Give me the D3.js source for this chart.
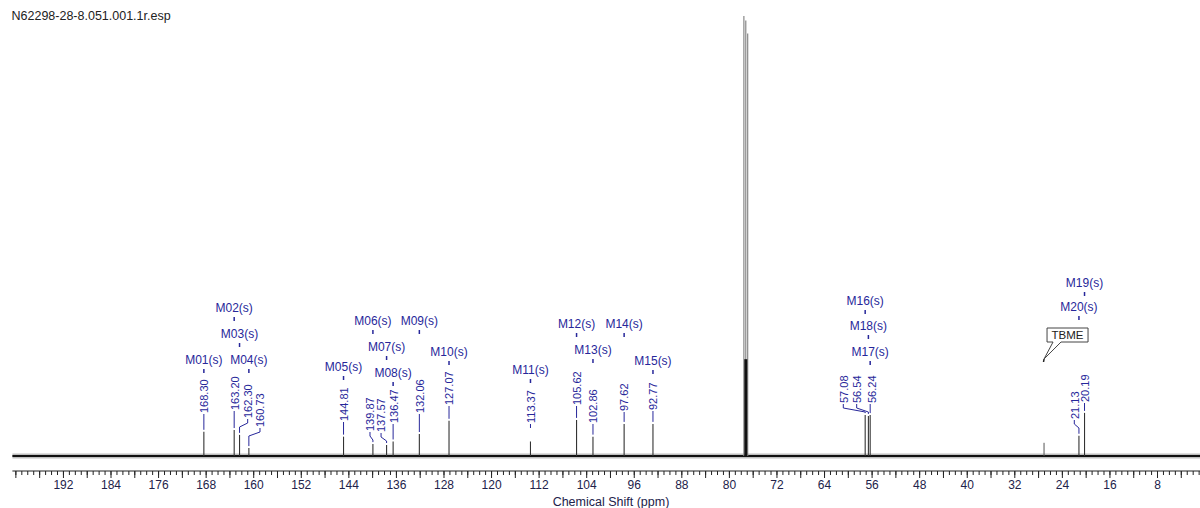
<!DOCTYPE html>
<html><head><meta charset="utf-8">
<script src="https://cdn.jsdelivr.net/npm/d3@7"></script>
<style>
html,body{margin:0;padding:0;background:#fff;}
svg{display:block;font-family:"Liberation Sans",Arial,sans-serif;}
</style></head>
<body>
<svg id="chart" width="1200" height="508"></svg>
<script>
// ---------- data ----------
const title = "N62298-28-8.051.001.1r.esp";
const axisTitle = "Chemical Shift (ppm)";
const peakPpm = [168.30,163.20,162.30,160.73,144.81,139.87,137.57,136.47,132.06,127.07,113.37,105.62,102.86,97.62,92.77,57.08,56.54,56.24,21.13,20.19];
const peakIntensity = [5.5,5.9,4.8,1.8,4.4,2.7,2.5,3.3,5.0,8.0,3.3,8.2,4.4,7.3,7.3,9.3,9.1,9.3,4.6,9.8];
const multipletNames = ["M01(s)","M02(s)","M03(s)","M04(s)","M05(s)","M06(s)","M07(s)","M08(s)","M09(s)","M10(s)","M11(s)","M12(s)","M13(s)","M14(s)","M15(s)","M16(s)","M18(s)","M17(s)","M20(s)","M19(s)"];
const solventPpm = [77.48,77.16,76.84];
const solventIntensity = [100,99,96];
const impurityPpm = [27.0];
const impurityIntensity = [3.0];
const impurityNames = ["TBME"];
const majorTicks = d3.range(4, 201, 4);
const minorTicks = d3.range(1, 201, 1);
const labelledTicks = d3.range(8, 193, 8);

// ---------- layout (label placement, not data) ----------
const labelLayout = [
  {textPpm:168.30,textBottom:413,mY:360},
  {textPpm:163.20,textBottom:410,mY:308},
  {textPpm:160.93,textBottom:418,mY:334},
  {textPpm:158.86,textBottom:427,mY:360},
  {textPpm:144.81,textBottom:421,mY:367},
  {textPpm:140.36,textBottom:431,mY:321},
  {textPpm:138.50,textBottom:432,mY:347},
  {textPpm:136.44,textBottom:423,mY:373},
  {textPpm:132.06,textBottom:413,mY:321},
  {textPpm:127.07,textBottom:405,mY:352},
  {textPpm:113.37,textBottom:423,mY:370,leaderEnd:428},
  {textPpm:105.62,textBottom:405,mY:324},
  {textPpm:102.86,textBottom:423,mY:350},
  {textPpm:97.62,textBottom:411,mY:324},
  {textPpm:92.77,textBottom:410,mY:361},
  {textPpm:60.76,textBottom:403,mY:301},
  {textPpm:58.51,textBottom:403,mY:326},
  {textPpm:55.99,textBottom:403,mY:352},
  {textPpm:21.91,textBottom:419,mY:307},
  {textPpm:20.19,textBottom:402,mY:283}
];

// ---------- drawing ----------
const svg = d3.select("#chart");
const W = 1200, H = 508;
const x = d3.scaleLinear().domain([200.5, 0.77]).range([12.4, 1200]);
const y = d3.scaleLinear().domain([0, 100]).range([456, 16]);
const labelColor = "#27279a";

svg.append("text").attr("x", 11.5).attr("y", 19.5)
  .attr("font-size", 12.5).attr("fill", "#222").text(title);

// baseline (noise band)
svg.append("line").attr("x1", x(200.5)).attr("x2", W).attr("y1", y(0)).attr("y2", y(0))
  .attr("stroke", "#000").attr("stroke-opacity", 0.25).attr("stroke-width", 5);
svg.append("line").attr("x1", x(200.5)).attr("x2", W).attr("y1", y(0)).attr("y2", y(0))
  .attr("stroke", "#111").attr("stroke-width", 2);

// solvent peaks
svg.append("g").selectAll("line").data(solventPpm).join("line")
  .attr("x1", d => x(d)).attr("x2", d => x(d))
  .attr("y1", y(0)).attr("y2", (d, i) => y(solventIntensity[i]))
  .attr("stroke", "#888").attr("stroke-width", 1.2);
svg.append("line").attr("x1", x(77.16)).attr("x2", x(77.16))
  .attr("y1", y(0)).attr("y2", y(22)).attr("stroke", "#111").attr("stroke-width", 3);

// impurity peak
svg.append("g").selectAll("line").data(impurityPpm).join("line")
  .attr("x1", d => x(d)).attr("x2", d => x(d))
  .attr("y1", y(0)).attr("y2", (d, i) => y(impurityIntensity[i]))
  .attr("stroke", "#555").attr("stroke-width", 1);

// peaks
svg.append("g").selectAll("line").data(peakPpm).join("line")
  .attr("x1", d => x(d)).attr("x2", d => x(d))
  .attr("y1", y(0)).attr("y2", (d, i) => y(peakIntensity[i]))
  .attr("stroke", "#333").attr("stroke-width", 1.1);

// peak labels
const lg = svg.append("g");
peakPpm.forEach((p, i) => {
  const L = labelLayout[i];
  const px = x(p), tx = x(L.textPpm), top = y(peakIntensity[i]);
  const tb = L.textBottom;
  lg.append("text")
    .attr("transform", `translate(${tx + 0.5},${tb}) rotate(-90)`)
    .attr("dy", "0.35em").attr("font-size", 11).attr("fill", labelColor)
    .text(p.toFixed(2));
  let pts;
  const end = L.leaderEnd !== undefined ? L.leaderEnd : top - 2;
  if (Math.abs(tx - px) < 1.5) {
    pts = [[px, tb + 1], [px, Math.max(end, tb + 5)]];
  } else {
    pts = [[tx, tb + 1], [tx, tb + 5], [px, tb + 9], [px, Math.max(end, tb + 10)]];
  }
  lg.append("path").attr("d", d3.line()(pts)).attr("fill", "none")
    .attr("stroke", labelColor).attr("stroke-width", 1);
  lg.append("text").attr("x", px).attr("y", L.mY).attr("dy", "0.35em")
    .attr("text-anchor", "middle").attr("font-size", 12).attr("fill", labelColor)
    .text(multipletNames[i]);
  lg.append("line").attr("x1", px).attr("x2", px)
    .attr("y1", L.mY + 9).attr("y2", L.mY + 13)
    .attr("stroke", labelColor).attr("stroke-width", 1.5);
});

// impurity callout
impurityPpm.forEach((p, i) => {
  const tipX = x(p), tipY = 359;
  const bx = tipX + 3, bw = 41, by = 328, bh = 14;
  const g = svg.append("g");
  g.append("path")
    .attr("d", `M${bx},${by} H${bx + bw} V${by + bh} H${bx + 14} L${tipX},${tipY} L${bx + 6},${by + bh} H${bx} Z`)
    .attr("fill", "#fff").attr("stroke", "#444").attr("stroke-width", 1);
  g.append("line").attr("x1", tipX).attr("x2", tipX - 0.5).attr("y1", tipY).attr("y2", tipY + 3)
    .attr("stroke", "#222").attr("stroke-width", 1.5);
  g.append("text").attr("x", bx + bw / 2).attr("y", by + bh / 2).attr("dy", "0.36em")
    .attr("text-anchor", "middle").attr("font-size", 11.5).attr("fill", "#222")
    .text(impurityNames[i]);
});

// axis
const axisY = 471;
const minorAxis = d3.axisBottom(x).tickValues(minorTicks).tickSize(4).tickFormat("");
const majorAxis = d3.axisBottom(x).tickValues(majorTicks).tickSize(7).tickPadding(2)
  .tickFormat(d => labelledTicks.includes(d) ? d : "");
const ga = svg.append("g").attr("transform", `translate(0,${axisY})`).call(minorAxis);
ga.select(".domain").attr("d", `M${x(200.5)},0H${W}`).attr("stroke", "#222");
ga.selectAll(".tick line").attr("stroke", "#222");
const gb = svg.append("g").attr("transform", `translate(0,${axisY})`).call(majorAxis);
gb.select(".domain").remove();
gb.selectAll(".tick line").attr("stroke", "#222");
gb.selectAll(".tick text").attr("font-size", 12).attr("fill", "#22224a")
  .attr("font-family", "Liberation Sans, Arial, sans-serif");

svg.append("text").attr("x", 611).attr("y", 505.5).attr("text-anchor", "middle")
  .attr("font-size", 12.5).attr("fill", "#22224a").text(axisTitle);
</script>
</body></html>
